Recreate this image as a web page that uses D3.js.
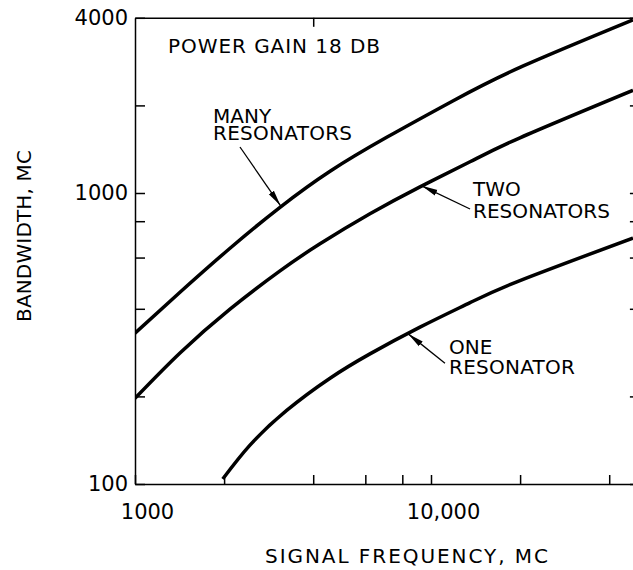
<!DOCTYPE html>
<html>
<head>
<meta charset="utf-8">
<script src="https://cdn.jsdelivr.net/npm/d3@7"></script>
<style>
    body { margin: 0; background: #fff; }
    text { font-family: "DejaVu Sans", sans-serif; fill: #000; }
</style>
</head>
<body>
<div id="chart"></div>
<script>
// values (signal frequency in MC, bandwidth in MC)
var manyFreq = [1000, 1419, 2094, 3090, 4560, 7085, 11890, 19980, 48130];
var manyBw = [330, 456, 646, 893, 1188, 1554, 2076, 2701, 3934];

var twoFreq = [1000, 1419, 2094, 3090, 4217, 6220, 9180, 13550, 19980, 48130];
var twoBw = [197, 282, 399, 540, 669, 848, 1050, 1280, 1548, 2254];

var oneFreq = [1979, 2446, 3254, 4560, 6220, 9180, 13550, 19980, 48130];
var oneBw = [104, 136, 179, 231, 280, 346, 420, 500, 700];

var xTicks = [1000, 2000, 4000, 6000, 8000, 10000, 20000, 40000];
var xTickLabels = {1000: "1000", 10000: "10,000"};
var yTicks = [100, 200, 400, 600, 800, 1000, 2000, 4000];
var yTickLabels = {100: "100", 1000: "1000", 4000: "4000"};

var width = 633;
var height = 570;

var x = d3.scaleLog().domain([1000, 50000]).range([135, 135 + 296 * Math.log10(50)]);
var y = d3.scaleLog().domain([100, 4000]).range([484, 484 - 291 * Math.log10(40)]);

var svg = d3.select("#chart").append("svg").attr("width", width).attr("height", height);

svg.append("defs").append("marker")
    .attr("id", "head")
    .attr("markerUnits", "userSpaceOnUse")
    .attr("viewBox", "0 0 16 8")
    .attr("refX", 16)
    .attr("refY", 4)
    .attr("markerWidth", 16)
    .attr("markerHeight", 8)
    .attr("orient", "auto")
    .append("path")
    .attr("d", "M0,0.9 L16,4 L0,7.1 Z")
    .attr("fill", "#000");

svg.select("defs").append("clipPath").attr("id", "plot")
    .append("rect")
    .attr("x", x.range()[0]).attr("y", y.range()[1])
    .attr("width", x.range()[1] - x.range()[0])
    .attr("height", y.range()[0] - y.range()[1]);

function styleAxis(g) {
    g.selectAll("path, line").attr("stroke", "#000").attr("stroke-width", 1.5);
    g.selectAll("text").attr("font-size", 21).attr("font-family", "DejaVu Sans").attr("fill", "#000");
}

// axes, ticks pointing into the plot
svg.append("g")
    .attr("transform", "translate(" + x.range()[0] + ",0)")
    .call(d3.axisLeft(y).tickValues(yTicks).tickSize(-10).tickSizeOuter(0).tickPadding(7)
        .tickFormat(function (d) { return yTickLabels[d] || ""; }))
    .call(styleAxis);

svg.append("g")
    .attr("transform", "translate(" + x.range()[1] + ",0)")
    .call(d3.axisRight(y).tickValues(yTicks).tickSize(-8).tickSizeOuter(0).tickFormat(""))
    .call(styleAxis);

var bottomAxis = svg.append("g")
    .attr("transform", "translate(0," + y.range()[0] + ")")
    .call(d3.axisBottom(x).tickValues(xTicks).tickSize(-9).tickSizeOuter(0).tickPadding(20)
        .tickFormat(function (d) { return xTickLabels[d] || ""; }))
    .call(styleAxis);
bottomAxis.selectAll("text").attr("dx", 12);

svg.append("g")
    .attr("transform", "translate(0," + y.range()[1] + ")")
    .call(d3.axisTop(x).tickValues([4000]).tickSize(-9).tickSizeOuter(0).tickFormat(""))
    .call(styleAxis);

// curves
var line = d3.line()
    .x(function (d) { return x(d[0]); })
    .y(function (d) { return y(d[1]); })
    .curve(d3.curveNatural);

var curves = [d3.zip(manyFreq, manyBw), d3.zip(twoFreq, twoBw), d3.zip(oneFreq, oneBw)];

svg.append("g").attr("clip-path", "url(#plot)")
    .selectAll("path")
    .data(curves)
    .enter()
    .append("path")
    .attr("d", line)
    .attr("fill", "none")
    .attr("stroke", "#000")
    .attr("stroke-width", 3.5);

// arrows: tail and tip in data units
var arrows = [
    {from: [2263, 1439], to: [3100, 905]},
    {from: [13550, 881], to: [9302, 1058]},
    {from: [11150, 260], to: [8380, 328]}
];

svg.selectAll(".arrow")
    .data(arrows)
    .enter()
    .append("line")
    .attr("class", "arrow")
    .attr("x1", function (d) { return x(d.from[0]); })
    .attr("y1", function (d) { return y(d.from[1]); })
    .attr("x2", function (d) { return x(d.to[0]); })
    .attr("y2", function (d) { return y(d.to[1]); })
    .attr("stroke", "#000")
    .attr("stroke-width", 1.3)
    .attr("marker-end", "url(#head)");

// labels
var labels = [
    {text: "POWER GAIN  18 DB", x: 168, y: 53, len: 212},
    {text: "MANY", x: 213, y: 123},
    {text: "RESONATORS", x: 213, y: 140, len: 139},
    {text: "TWO", x: 473, y: 196},
    {text: "RESONATORS", x: 473, y: 217.5, len: 137},
    {text: "ONE", x: 449, y: 354},
    {text: "RESONATOR", x: 449, y: 374, len: 126},
    {text: "SIGNAL FREQUENCY, MC", x: 265, y: 562.5, len: 283}
];

svg.selectAll(".label")
    .data(labels)
    .enter()
    .append("text")
    .attr("class", "label")
    .attr("x", function (d) { return d.x; })
    .attr("y", function (d) { return d.y; })
    .attr("font-size", 20)
    .attr("textLength", function (d) { return d.len || null; })
    .attr("lengthAdjust", "spacing")
    .text(function (d) { return d.text; });

svg.append("text")
    .attr("transform", "translate(31,236) rotate(-90)")
    .attr("text-anchor", "middle")
    .attr("font-size", 20)
    .attr("textLength", 172)
    .attr("lengthAdjust", "spacing")
    .text("BANDWIDTH, MC");
</script>
</body>
</html>
